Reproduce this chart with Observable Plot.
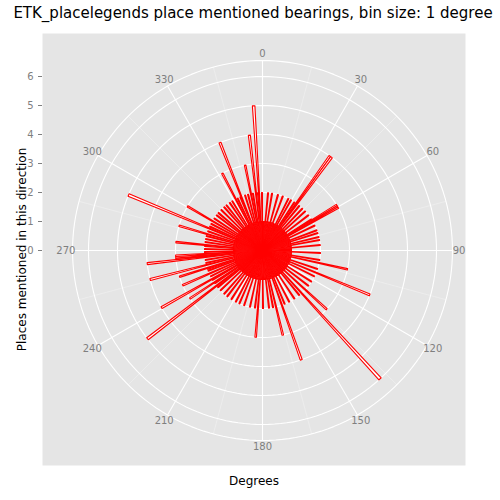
<!DOCTYPE html>
<html>
<head>
<meta charset="utf-8">
<script src="https://cdn.jsdelivr.net/npm/d3@7"></script>
<script src="https://cdn.jsdelivr.net/npm/@observablehq/plot@0.6"></script>
<style>
  body { margin: 0; background: white; font-family: "DejaVu Sans", sans-serif; }
  #title { height: 26px; line-height: 26px; font-size: 15px; text-align: center; padding-left: 6px; color: #000; }
</style>
</head>
<body>
<div id="title">ETK_placelegends place mentioned bearings, bin size: 1 degree</div>
<script>
// count of places per 1-degree bearing bin, 0..359
const counts = [
  1,1,1,0,1,2,1,1,1,2,
  1,1,0,1,1,2,1,1,1,1,
  2,1,1,0,1,1,2,1,1,2,
  1,1,0,2,1,4,4,1,1,2,
  1,1,0,2,1,1,1,2,1,1,
  0,1,2,1,1,1,1,2,3,3,
  3,1,1,0,2,1,1,1,1,2,
  1,1,2,1,1,1,2,1,1,2,
  1,1,0,1,2,1,1,1,0,1,
  1,0,2,1,1,1,0,1,1,2,
  1,1,3,1,1,0,1,1,2,1,
  1,1,4,1,1,1,2,1,1,0,
  1,1,2,1,1,1,0,2,1,1,
  1,1,3,1,0,1,1,6,1,1,
  2,1,1,1,0,1,2,1,1,0,
  1,1,2,1,1,0,1,2,1,1,
  4,1,1,0,1,1,3,1,1,2,
  1,1,0,2,1,1,1,0,1,2,
  1,1,0,1,3,1,1,2,1,1,
  0,1,2,1,1,0,1,1,2,1,
  1,1,0,2,1,1,1,2,1,0,
  1,1,2,1,1,0,1,2,1,1,
  1,2,1,1,0,1,2,1,1,1,
  2,1,5,1,1,2,3,1,1,2,
  4,1,1,2,1,1,3,1,1,2,
  1,2,3,1,1,4,1,2,1,1,
  2,1,1,4,3,3,3,1,2,1,
  1,2,1,1,2,3,1,1,2,1,
  1,2,1,1,2,1,3,1,1,2,
  1,1,5,1,2,1,1,2,1,1,
  3,1,1,2,1,1,0,2,1,1,
  2,1,1,0,2,1,1,1,2,1,
  1,2,1,1,0,2,1,1,2,1,
  1,1,3,1,2,1,1,2,4,1,
  1,0,2,1,1,2,1,1,3,1,
  2,1,0,4,1,2,5,1,1,2
];
const rTicks = [0, 1, 2, 3, 4, 5, 6];
const thetaLabels = [0, 30, 60, 90, 120, 150, 180, 210, 240, 270, 300, 330];
const minorSpokes = [15, 45, 75, 105, 135, 165, 195, 225, 255, 285, 315, 345];
const outerR = 6.55;
const labelR = 6.78;

const rad = (deg) => (deg * Math.PI) / 180;
const px = (r, deg) => r * Math.sin(rad(deg));
const py = (r, deg) => r * Math.cos(rad(deg));

// wedge polygons for each bin
const wedges = [];
counts.forEach((c, i) => {
  if (c <= 0) return;
  [[0, i], [c, i], [c, i + 1], [0, i]].forEach(([r, a]) =>
    wedges.push({ bin: i, x: px(r, a), y: py(r, a) })
  );
});

const rings = [];
[...rTicks.slice(1), outerR].forEach((r) => {
  d3.range(0, 361, 2).forEach((a) => rings.push({ r, x: px(r, a), y: py(r, a) }));
});

const spokes = (list) => list.map((a) => ({ x2: px(outerR, a), y2: py(outerR, a) }));

document.body.append(
  Plot.plot({
    width: 500,
    height: 474,
    marginTop: 7,
    marginBottom: 35,
    marginLeft: 42,
    marginRight: 35,
    style: { fontFamily: "DejaVu Sans, sans-serif", background: "white" },
    x: { domain: [-7.586, 7.0], axis: null },
    y: { domain: [-7.414, 7.483], axis: null },
    marks: [
      Plot.frame({ fill: "#e5e5e5", stroke: null }),
      Plot.link(spokes(minorSpokes), { x1: 0, y1: 0, x2: "x2", y2: "y2", stroke: "#f2f2f2", strokeWidth: 0.6 }),
      Plot.link(spokes(thetaLabels), { x1: 0, y1: 0, x2: "x2", y2: "y2", stroke: "white", strokeWidth: 1.1 }),
      Plot.line(rings, { x: "x", y: "y", z: "r", stroke: "white", strokeWidth: 1.1 }),
      Plot.line(wedges, { x: "x", y: "y", z: "bin", fill: "white", stroke: "red", strokeWidth: 1.1, curve: "linear" }),
      Plot.text(thetaLabels, { x: (d) => px(labelR, d), y: (d) => py(labelR, d), text: (d) => String(d), fill: "#7f7f7f", fontSize: 10 }),
      Plot.axisY(rTicks, { x: -7.586, anchor: "left", tickSize: 4, stroke: "#7f7f7f", fill: "#7f7f7f", fontSize: 10, label: null }),
      Plot.text(["Places mentioned in this direction"], { frameAnchor: "left", textAnchor: "middle", dx: -20, rotate: -90, fontSize: 12, fill: "black" }),
      Plot.text(["Degrees"], { frameAnchor: "bottom", dy: 19, fontSize: 12, fill: "black" })
    ]
  })
);
</script>
</body>
</html>
